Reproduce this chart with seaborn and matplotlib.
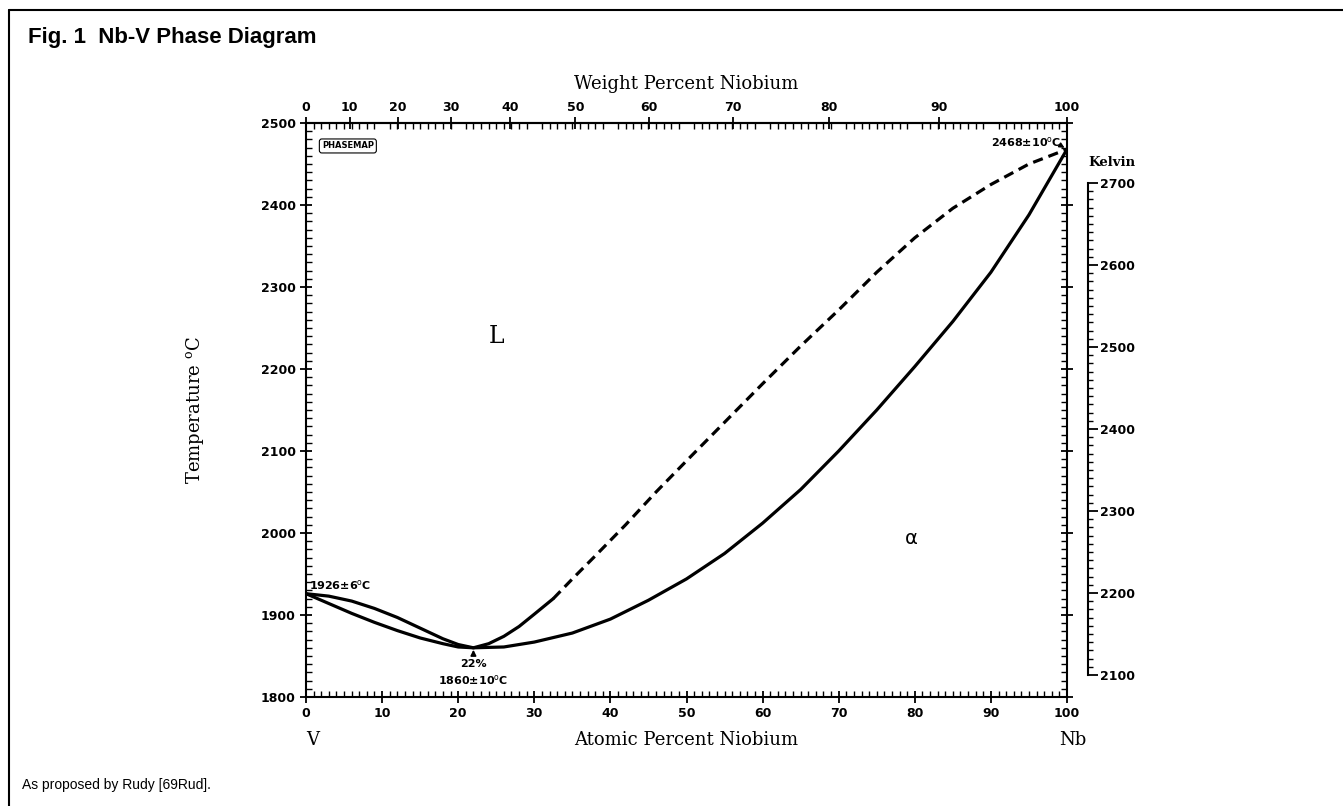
import numpy as np
import pandas as pd
import seaborn as sns
import matplotlib.pyplot as plt
from matplotlib.lines import Line2D
from matplotlib.ticker import MultipleLocator, FixedLocator, NullLocator

# --- datos (at.% Nb, temperatura en C) ---
LIQ_X = [0, 3, 6, 9, 12, 15, 18, 20, 22, 24, 26, 28, 30, 32.5]
LIQ_T = [1926, 1923, 1917, 1908, 1897, 1884, 1871, 1864, 1860, 1865, 1874, 1886, 1901, 1920]

LIQ_DASH_X = [32.5, 35, 38, 42, 46, 50, 55, 60, 65, 70, 75, 80, 85, 90, 95, 100]
LIQ_DASH_T = [1920, 1944, 1972, 2010, 2050, 2088, 2135, 2182, 2228, 2272, 2318, 2360, 2396, 2425, 2450, 2468]

SOL_X = [0, 3, 6, 9, 12, 15, 18, 20, 22, 26, 30, 35, 40, 45, 50, 55, 60, 65,
         70, 75, 80, 85, 90, 95, 100]
SOL_T = [1926, 1914, 1902, 1891, 1881, 1872, 1865, 1861, 1860, 1861, 1867, 1878,
         1895, 1918, 1944, 1975, 2012, 2053, 2100, 2150, 2203, 2258, 2318, 2388, 2468]

AT_TICKS = list(range(0, 101, 10))
WT_TICKS = list(range(0, 101, 10))
T_TICKS = list(range(1800, 2501, 100))
K_TICKS = list(range(2100, 2701, 100))

M_NB, M_V = 92.906, 50.9415


def at_to_wt(a):
    a = np.asarray(a, dtype=float)
    with np.errstate(divide="ignore", invalid="ignore"):
        return 100 * a * M_NB / (a * M_NB + (100 - a) * M_V)


def wt_to_at(w):
    w = np.asarray(w, dtype=float)
    with np.errstate(divide="ignore", invalid="ignore"):
        return 100 * (w / M_NB) / (w / M_NB + (100 - w) / M_V)


sns.set_style("ticks")
plt.rcParams["font.family"] = ["DejaVu Sans"]
plt.rcParams["mathtext.fontset"] = "dejavuserif"
for key in ["text.color", "axes.labelcolor", "xtick.color", "ytick.color", "axes.edgecolor"]:
    plt.rcParams[key] = "black"

W, H = 1343, 806
fig = plt.figure(figsize=(W / 100, H / 100), dpi=100)
fig.patch.set_facecolor("white")
ax = fig.add_axes([306 / W, 1 - 697 / H, 761 / W, 574 / H])

liq = pd.DataFrame({"x": LIQ_X, "T": LIQ_T})
liq_d = pd.DataFrame({"x": LIQ_DASH_X, "T": LIQ_DASH_T})
sol = pd.DataFrame({"x": SOL_X, "T": SOL_T})

sns.lineplot(data=liq, x="x", y="T", ax=ax, color="black", linewidth=2.3)
sns.lineplot(data=liq_d, x="x", y="T", ax=ax, color="black", linewidth=2.3,
             linestyle=(0, (3.2, 1.9)))
sns.lineplot(data=sol, x="x", y="T", ax=ax, color="black", linewidth=2.3)

ax.set_xlim(0, 100)
ax.set_ylim(1800, 2500)
for s in ax.spines.values():
    s.set_linewidth(1.5)

# --- eje Kelvin (derecha, separado) ---
axk = ax.twinx()
axk.set_ylim(1800 + 273.15, 2500 + 273.15)
for s in ["left", "top", "bottom"]:
    axk.spines[s].set_visible(False)
axk.spines["right"].set_position(("outward", 15))
axk.spines["right"].set_bounds(2100, 2700)
axk.spines["right"].set_linewidth(1.5)
axk.set_yticks(K_TICKS, [str(k) for k in K_TICKS], fontweight="bold", fontsize=9)
axk.yaxis.set_minor_locator(FixedLocator(np.arange(2100, 2701, 10)))
axk.tick_params(which="major", direction="out", length=7, width=1.3, pad=2)
axk.tick_params(which="minor", direction="out", length=3.5, width=1)

# --- ticks eje principal ---
ax.set_xticks(AT_TICKS, [str(v) for v in AT_TICKS], fontweight="bold", fontsize=9)
ax.set_yticks(T_TICKS, [str(v) for v in T_TICKS], fontweight="bold", fontsize=9)
ax.xaxis.set_minor_locator(MultipleLocator(1))
ax.yaxis.set_minor_locator(MultipleLocator(10))
ax.tick_params(which="major", direction="inout", length=9, width=1.3,
               bottom=True, left=True, right=True, top=False, pad=3)
ax.tick_params(which="minor", direction="in", length=4, width=1,
               bottom=True, left=True, right=True, top=True)
ax.tick_params(labelright=False, labeltop=False)

# --- eje superior: porcentaje en peso ---
secx = ax.secondary_xaxis("top", functions=(at_to_wt, wt_to_at))
secx.set_xticks(WT_TICKS, [str(w) for w in WT_TICKS], fontweight="bold", fontsize=9)
secx.xaxis.set_minor_locator(NullLocator())
secx.tick_params(direction="inout", length=9, width=1.3, pad=2)
secx.spines["top"].set_linewidth(1.5)

# --- titulos de ejes ---
serif = "DejaVu Serif"
ax.set_xlabel("Atomic Percent Niobium", fontfamily=serif, fontsize=13, va="center")
ax.xaxis.set_label_coords(0.5, -0.075)
ax.set_ylabel(r"Temperature $^{\rm o}$C", fontfamily=serif, fontsize=13, va="center")
ax.yaxis.set_label_coords(-0.146, 0.5)
ax.text(0.5, 1.068, "Weight Percent Niobium", transform=ax.transAxes,
        ha="center", va="center", fontfamily=serif, fontsize=13)
ax.text(0.009, -0.075, "V", transform=ax.transAxes, ha="center", va="center",
        fontfamily=serif, fontsize=13)
ax.text(1.007, -0.075, "Nb", transform=ax.transAxes, ha="center", va="center",
        fontfamily=serif, fontsize=13)
fig.text(1112 / W, 1 - 163 / H, "Kelvin", ha="center", va="center",
         fontfamily=serif, fontweight="bold", fontsize=9.5)

# --- etiquetas de fases y anotaciones ---
ax.text(25, 2240, "L", fontfamily=serif, fontsize=17, ha="center", va="center")
ax.text(79.6, 1993, "α", fontsize=14, ha="center", va="center")
ax.text(5.5, 2472, "PHASEMAP", fontsize=6, fontweight="bold", ha="center", va="center",
        bbox=dict(boxstyle="round,pad=0.3", fc="white", ec="black", lw=0.8))

ax.text(0.4, 1937, r"1926±6$^{\mathsf{o}}$C", fontsize=8, fontweight="bold",
        ha="left", va="center")
ax.annotate("", xy=(22, 1861), xytext=(22, 1848),
            arrowprops=dict(arrowstyle="-|>", color="black", lw=1.2, mutation_scale=8))
ax.text(22, 1840, "22%", fontsize=8, fontweight="bold", ha="center", va="center")
ax.text(22, 1821, r"1860±10$^{\mathsf{o}}$C", fontsize=8, fontweight="bold",
        ha="center", va="center")
ax.text(99.2, 2477, r"2468±10$^{\mathsf{o}}$C", fontsize=8, fontweight="bold",
        ha="right", va="center")
ax.annotate("", xy=(100, 2468), xytext=(98.9, 2474),
            arrowprops=dict(arrowstyle="-|>", color="black", lw=1.2, mutation_scale=7))

# --- titulo, pie y marco ---
fig.text(28 / W, 1 - 38 / H, "Fig. 1  Nb-V Phase Diagram", fontfamily="Liberation Sans",
         fontweight="bold", fontsize=16, ha="left", va="center")
fig.text(22 / W, 1 - 785 / H, "As proposed by Rudy [69Rud].", fontfamily="Liberation Sans",
         fontsize=10, ha="left", va="center")
fig.add_artist(Line2D([9 / W, 1], [1 - 10 / H, 1 - 10 / H], transform=fig.transFigure,
                      color="black", lw=1.5))
fig.add_artist(Line2D([9 / W, 9 / W], [0, 1 - 10 / H], transform=fig.transFigure,
                      color="black", lw=1.5))

fig.savefig("out.png", dpi=100)
